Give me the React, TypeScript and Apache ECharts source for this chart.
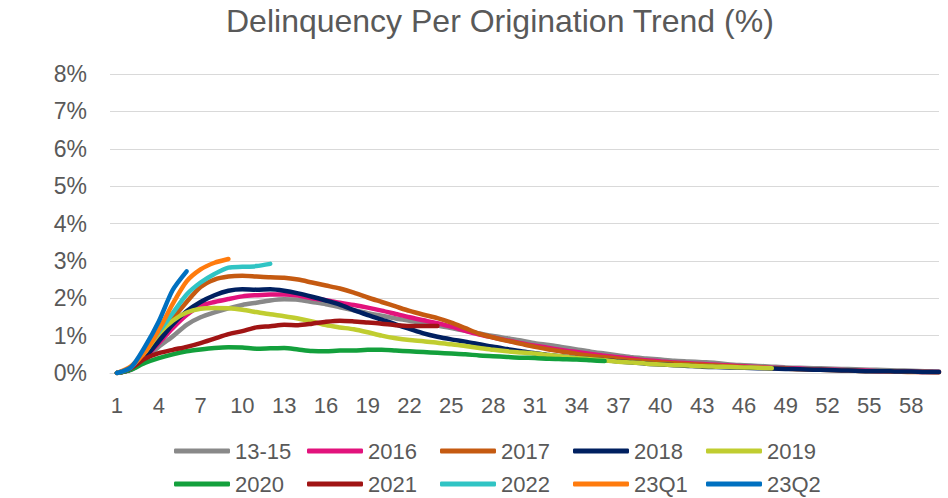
import { useEffect, useRef } from "react";
import * as echarts from "echarts";

const months: number[] = Array.from({ length: 60 }, (_, i) => i + 1);
const xTickLabels: number[] = [1, 4, 7, 10, 13, 16, 19, 22, 25, 28, 31, 34, 37, 40, 43, 46, 49, 52, 55, 58];

const seriesNames: string[] = ["13-15", "2016", "2017", "2018", "2019", "2020", "2021", "2022", "23Q1", "23Q2"];
const seriesColors: string[] = ["#898989", "#E2127C", "#C55A11", "#002060", "#C0CD30", "#13A03C", "#A01414", "#30C4C4", "#FF7B0D", "#0070C0"];

const v1315: number[] = [0, 0.08, 0.35, 0.7, 0.98, 1.29, 1.49, 1.62, 1.73, 1.82, 1.88, 1.94, 1.97, 1.96, 1.9, 1.84, 1.76, 1.68, 1.6, 1.53, 1.46, 1.4, 1.33, 1.27, 1.2, 1.13, 1.06, 0.99, 0.93, 0.87, 0.8, 0.75, 0.69, 0.63, 0.57, 0.52, 0.47, 0.42, 0.39, 0.36, 0.33, 0.31, 0.29, 0.27, 0.23, 0.21, 0.19, 0.17, 0.15, 0.14, 0.13, 0.12, 0.11, 0.1, 0.09, 0.08, 0.07, 0.06, 0.05, 0.04];
const v2016: number[] = [0, 0.1, 0.4, 0.8, 1.2, 1.55, 1.8, 1.9, 1.98, 2.05, 2.08, 2.1, 2.1, 2.07, 2.0, 1.95, 1.88, 1.82, 1.75, 1.67, 1.58, 1.49, 1.41, 1.33, 1.24, 1.13, 1.03, 0.95, 0.87, 0.8, 0.73, 0.67, 0.61, 0.56, 0.51, 0.46, 0.42, 0.38, 0.34, 0.31, 0.28, 0.26, 0.24, 0.22, 0.2, 0.18, 0.16, 0.14, 0.13, 0.12, 0.1, 0.09, 0.08, 0.07, 0.06, 0.05, 0.05, 0.04, 0.03, 0.03];
const v2017: number[] = [0, 0.12, 0.5, 0.95, 1.45, 1.9, 2.3, 2.5, 2.58, 2.6, 2.58, 2.56, 2.55, 2.5, 2.42, 2.34, 2.26, 2.15, 2.02, 1.9, 1.78, 1.66, 1.56, 1.47, 1.35, 1.2, 1.05, 0.95, 0.86, 0.78, 0.7, 0.63, 0.57, 0.51, 0.46, 0.42, 0.38, 0.34, 0.31, 0.28, 0.26, 0.24, 0.22, 0.2, 0.18, 0.16, 0.14, 0.13, 0.12, 0.1, 0.09, 0.08, 0.07, 0.06, 0.05, 0.05, 0.04, 0.03, 0.03, 0.02];
const v2018: number[] = [0, 0.1, 0.42, 0.85, 1.3, 1.65, 1.9, 2.08, 2.2, 2.24, 2.23, 2.24, 2.2, 2.13, 2.04, 1.94, 1.83, 1.68, 1.55, 1.43, 1.3, 1.18, 1.06, 0.97, 0.9, 0.84, 0.77, 0.7, 0.64, 0.58, 0.53, 0.48, 0.44, 0.4, 0.37, 0.34, 0.31, 0.28, 0.25, 0.23, 0.21, 0.19, 0.17, 0.16, 0.15, 0.14, 0.13, 0.12, 0.11, 0.1, 0.09, 0.08, 0.07, 0.06, 0.05, 0.05, 0.04, 0.04, 0.03, 0.03];
const v2019: number[] = [0, 0.12, 0.55, 1.05, 1.4, 1.62, 1.72, 1.74, 1.73, 1.69, 1.63, 1.57, 1.52, 1.46, 1.38, 1.28, 1.22, 1.17, 1.09, 1.0, 0.93, 0.88, 0.85, 0.81, 0.77, 0.72, 0.67, 0.62, 0.58, 0.55, 0.52, 0.48, 0.44, 0.4, 0.37, 0.34, 0.3, 0.28, 0.25, 0.23, 0.21, 0.2, 0.18, 0.17, 0.16, 0.15, 0.14, 0.13];
const v2020: number[] = [0, 0.09, 0.27, 0.4, 0.5, 0.58, 0.63, 0.67, 0.69, 0.68, 0.65, 0.66, 0.67, 0.63, 0.59, 0.58, 0.6, 0.6, 0.62, 0.62, 0.6, 0.58, 0.56, 0.54, 0.52, 0.5, 0.47, 0.45, 0.43, 0.41, 0.4, 0.38, 0.37, 0.36, 0.34, 0.32];
const v2021: number[] = [0, 0.13, 0.38, 0.53, 0.62, 0.7, 0.8, 0.92, 1.04, 1.12, 1.22, 1.25, 1.29, 1.28, 1.32, 1.37, 1.4, 1.38, 1.35, 1.32, 1.28, 1.26, 1.26, 1.26];
const v2022: number[] = [0, 0.15, 0.6, 1.1, 1.6, 2.1, 2.42, 2.65, 2.82, 2.84, 2.86, 2.92];
const v23Q1: number[] = [0, 0.18, 0.55, 1.15, 1.85, 2.45, 2.77, 2.95, 3.05];
const v23Q2: number[] = [0, 0.15, 0.7, 1.38, 2.22, 2.72];

const seriesValues: number[][] = [v1315, v2016, v2017, v2018, v2019, v2020, v2021, v2022, v23Q1, v23Q2];

const FONT = "'Liberation Sans', Arial, sans-serif";
const TEXT = "#595959";

export default function App() {
  const ref = useRef<HTMLDivElement>(null);
  useEffect(() => {
    if (!ref.current) return;
    const chart = echarts.init(ref.current, undefined, { renderer: "svg" });
    const legends = seriesNames.map((name, i) => ({
      orient: "horizontal" as const,
      left: 174 + (i % 5) * 133,
      top: i < 5 ? 440 : 473,
      padding: 0,
      icon: "roundRect",
      itemWidth: 56,
      itemHeight: 5,
      textStyle: { color: TEXT, fontSize: 22, lineHeight: 22, fontFamily: FONT },
      data: [name],
    }));
    chart.setOption({
      animation: false,
      backgroundColor: "#ffffff",
      title: {
        text: "Delinquency Per Origination Trend (%)",
        left: 221,
        top: 0,
        textStyle: { color: TEXT, fontSize: 32, fontWeight: "normal", fontFamily: FONT },
      },
      legend: legends,
      grid: { left: 110, right: 9, top: 74, bottom: 125, containLabel: false },
      xAxis: {
        type: "value",
        min: 0.5,
        max: 60,
        axisLine: { show: true, lineStyle: { color: "#D9D9D9", width: 1 } },
        axisTick: { show: false },
        splitLine: { show: false },
        axisLabel: {
          customValues: xTickLabels,
          color: TEXT,
          fontSize: 22,
          fontFamily: FONT,
          margin: 21,
        },
      },
      yAxis: {
        type: "value",
        min: 0,
        max: 8,
        interval: 1,
        axisLine: { show: false },
        axisTick: { show: false },
        splitLine: { lineStyle: { color: "#D9D9D9", width: 1 } },
        axisLabel: {
          formatter: "{value}%",
          color: TEXT,
          fontSize: 23,
          fontFamily: FONT,
          margin: 23,
        },
      },
      series: seriesNames.map((name, si) => ({
        name,
        type: "line",
        data: seriesValues[si].map((v, i) => [months[i], v]),
        showSymbol: false,
        symbol: "none",
        smooth: 0.25,
        color: seriesColors[si],
        lineStyle: { width: 4.5, color: seriesColors[si], cap: "round", join: "round" },
      })),
    });
    return () => chart.dispose();
  }, []);
  return <div ref={ref} style={{ position: "fixed", left: 0, top: 0, width: 948, height: 498 }} />;
}
